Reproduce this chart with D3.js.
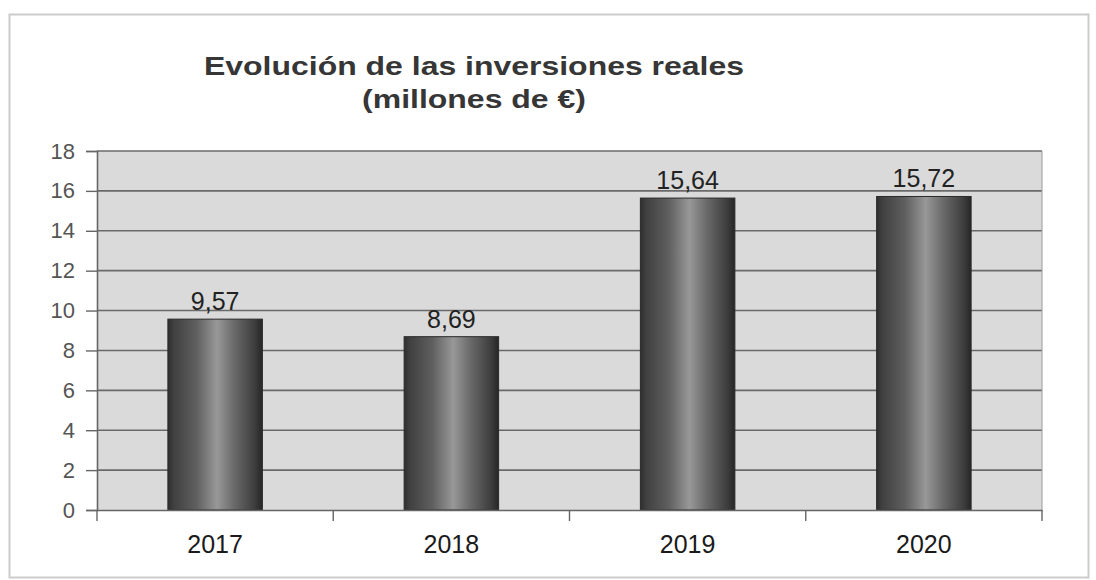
<!DOCTYPE html>
<html>
<head>
<meta charset="utf-8">
<script src="https://cdn.jsdelivr.net/npm/d3@7"></script>
<style>
  html, body { margin: 0; padding: 0; background: #fff; }
  svg { display: block; }
</style>
</head>
<body>
<svg id="chart" width="1096" height="580"></svg>
<script>
// Inversiones reales por año (millones de €)
const years = ["2017", "2018", "2019", "2020"];
const values = [9.57, 8.69, 15.64, 15.72];
const yTicks = [0, 2, 4, 6, 8, 10, 12, 14, 16, 18];
const titleLines = ["Evolución de las inversiones reales", "(millones de €)"];

const svg = d3.select("#chart");
const font = "'Liberation Sans', Arial, sans-serif";

const plot = { left: 97, right: 1042, top: 151, bottom: 510 };

// Outer chart frame
svg.append("rect")
  .attr("x", 9.5).attr("y", 14.5)
  .attr("width", 1079).attr("height", 563)
  .attr("fill", "#fff")
  .attr("stroke", "#cccccc").attr("stroke-width", 2);

// Title (wide bold lettering)
const title = svg.append("text")
  .attr("transform", "translate(474,0) scale(1.23,1)")
  .attr("text-anchor", "middle")
  .attr("font-family", font)
  .attr("font-weight", "bold")
  .attr("font-size", 26)
  .attr("fill", "#363636");
title.selectAll("tspan").data(titleLines).join("tspan")
  .attr("x", 0)
  .attr("y", (d, i) => 75 + i * 33)
  .text(d => d);

// Scales
const y = d3.scaleLinear().domain([0, 18]).range([plot.bottom, plot.top]);
const xCat = d3.scaleBand().domain(years).range([plot.left, plot.right]).padding(0);
const xBar = d3.scaleBand().domain(years).range([plot.left, plot.right])
  .paddingInner(0.6).paddingOuter(0.3);

// Plot background
svg.append("rect")
  .attr("x", plot.left).attr("y", plot.top)
  .attr("width", plot.right - plot.left).attr("height", plot.bottom - plot.top)
  .attr("fill", "#dadada");

// Horizontal grid lines
svg.append("g")
  .selectAll("line")
  .data(yTicks.filter(t => t > 0))
  .join("line")
  .attr("x1", plot.left).attr("x2", plot.right)
  .attr("y1", d => y(d)).attr("y2", d => y(d))
  .attr("stroke", "#6a6a6a").attr("stroke-width", 1.6);

// Right border of plot area
svg.append("line")
  .attr("x1", plot.right).attr("x2", plot.right)
  .attr("y1", plot.top).attr("y2", plot.bottom)
  .attr("stroke", "#9a9a9a").attr("stroke-width", 1);

// Cylinder-like shading for the bars
const defs = svg.append("defs");
const grad = defs.append("linearGradient")
  .attr("id", "barShade").attr("x1", "0%").attr("x2", "100%").attr("y1", "0%").attr("y2", "0%");
[
  [0, "#2e2e2e"], [0.06, "#404040"], [0.3, "#5f5f5f"], [0.52, "#989898"],
  [0.7, "#6a6a6a"], [0.92, "#3d3d3d"], [1, "#262626"]
].forEach(([o, c]) => grad.append("stop").attr("offset", o).attr("stop-color", c));

// Bars
svg.append("g")
  .selectAll("rect")
  .data(years.map((yr, i) => ({ yr, v: values[i] })))
  .join("rect")
  .attr("x", d => xBar(d.yr))
  .attr("y", d => y(d.v))
  .attr("width", xBar.bandwidth())
  .attr("height", d => y(0) - y(d.v))
  .attr("fill", "url(#barShade)")
  .attr("stroke", "#2a2a2a").attr("stroke-width", 1);

// Value labels
const fmt = v => d3.format(".2f")(v).replace(".", ",");
svg.append("g")
  .selectAll("text")
  .data(years.map((yr, i) => ({ yr, v: values[i] })))
  .join("text")
  .attr("x", d => xBar(d.yr) + xBar.bandwidth() / 2)
  .attr("y", d => y(d.v) - 9)
  .attr("text-anchor", "middle")
  .attr("font-family", font)
  .attr("font-size", 25)
  .attr("fill", "#222")
  .text(d => fmt(d.v));

// Y axis
const yAxis = svg.append("g")
  .attr("transform", `translate(${plot.left},0)`)
  .call(d3.axisLeft(y).tickValues(yTicks).tickSize(11).tickPadding(11).tickFormat(d3.format("d")));
yAxis.select(".domain").attr("stroke", "#666").attr("stroke-width", 1.6);
yAxis.selectAll(".tick line").attr("stroke", "#666").attr("stroke-width", 1.4);
yAxis.selectAll(".tick text")
  .attr("font-family", font).attr("font-size", 22).attr("fill", "#555");

// X axis with ticks at category boundaries
const xAxis = svg.append("g")
  .attr("transform", `translate(0,${plot.bottom})`)
  .call(d3.axisBottom(xCat).tickSize(0).tickPadding(25));
xAxis.select(".domain").attr("stroke", "#666").attr("stroke-width", 1.6);
xAxis.selectAll(".tick text")
  .attr("font-family", font).attr("font-size", 25).attr("fill", "#1a1a1a");
const bounds = years.map(d => xCat(d)).concat([plot.right]);
xAxis.selectAll("line.bound")
  .data(bounds)
  .join("line")
  .attr("class", "bound")
  .attr("x1", d => d).attr("x2", d => d)
  .attr("y1", 0).attr("y2", 11)
  .attr("stroke", "#666").attr("stroke-width", 1.4);
</script>
</body>
</html>
